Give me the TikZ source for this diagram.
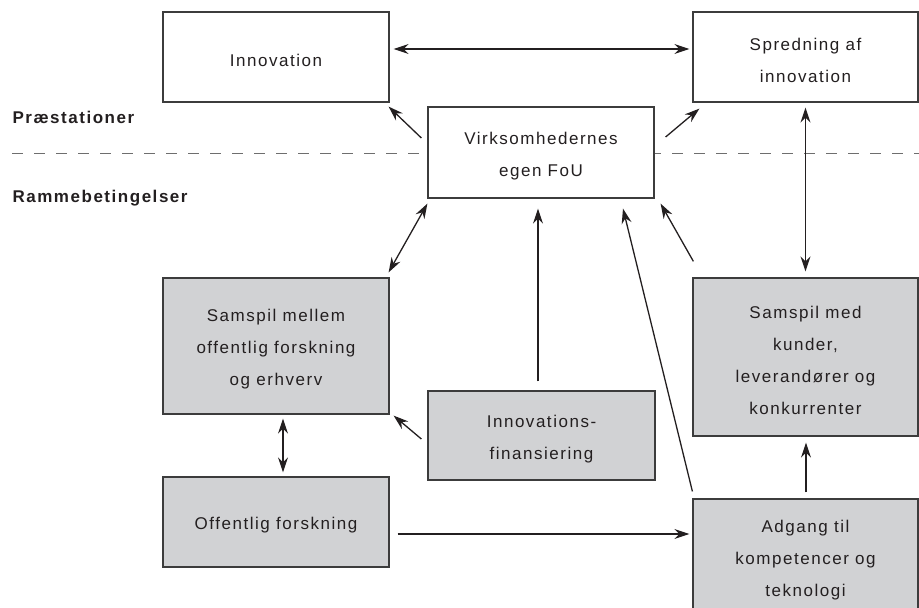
\documentclass[tikz,border=0pt]{standalone}
\usepackage{fontspec}
\setmainfont{Liberation Sans}[LetterSpace=9]
\usetikzlibrary{arrows.meta}
\definecolor{boxfill}{RGB}{209,210,212}
\definecolor{ink}{RGB}{35,31,32}
\definecolor{edge}{RGB}{60,60,60}
\definecolor{dashgray}{RGB}{110,110,110}
\newcommand{\bstrut}{\rule{0pt}{19pt}}
\begin{document}
\begin{tikzpicture}[x=1pt,y=-1pt,
  box/.style={draw=edge, line width=1.2pt, fill=white, inner sep=0pt, align=center, text=ink,
    font=\fontsize{17pt}{32pt}\selectfont},
  gbox/.style={box, fill=boxfill},
  >={Stealth[length=15pt,width=10pt,inset=5pt]},
  conn/.style={draw=ink, line width=1.3pt},
  lbl/.style={anchor=base west, text=ink, font=\bfseries\fontsize{17pt}{20pt}\selectfont}]
\useasboundingbox (0,0) rectangle (919,608);
\clip (0,0) rectangle (919,608);
% separator
\coordinate (dl) at (12,153);
\coordinate (dr) at (919,153);
\draw[dash pattern=on 11pt off 11pt, draw=dashgray, line width=1pt] (dl) -- (dr);
\node[lbl] (prae) at (9,123) {Præstationer};
\node[lbl] (ramme) at (9,202) {Rammebetingelser};
% boxes
\node[box, minimum width=226pt, minimum height=90pt] (innov) at (276,57) {\bstrut Innovation};
\node[box, minimum width=225pt, minimum height=90pt] (spred) at (805.5,57) {\bstrut Spredning af\\innovation};
\node[box, minimum width=226pt, minimum height=91pt] (virk) at (541,152.5) {\bstrut Virksomhedernes\\egen FoU};
\node[gbox, minimum width=226pt, minimum height=136pt] (smellem) at (276,346) {\bstrut Samspil mellem\\offentlig forskning\\og erhverv};
\node[gbox, minimum width=227pt, minimum height=89pt] (fin) at (541.5,435.5) {\bstrut Innovations-\\finansiering};
\node[gbox, minimum width=226pt, minimum height=90pt] (off) at (276,522) {\bstrut Offentlig forskning};
\node[gbox, minimum width=225pt, minimum height=158pt] (smed) at (805.5,357) {\bstrut Samspil med\\kunder,\\leverandører og\\konkurrenter};
\node[gbox, minimum width=225pt, minimum height=116pt] (adg) at (805.5,557) {\bstrut Adgang til\\kompetencer og\\teknologi};
% connectors
\draw[conn,<->] ([shift={(4,-8)}]innov.east) -- ([shift={(-3,-8)}]spred.west);
\draw[conn,->] ([shift={(-6,-14.5)}]virk.west) -- ([shift={(-1,4)}]innov.south east);
\draw[conn,->] ([shift={(11,-15.5)}]virk.east) -- ([shift={(7,6)}]spred.south west);
\draw[conn,<->] ([shift={(0,5)}]spred.south) -- ([shift={(0,-6)}]smed.north);
\draw[conn,<->] ([shift={(0,5)}]virk.south west) -- ([shift={(-1,-5)}]smellem.north east);
\draw[conn,->] ([shift={(-3.5,-9)}]fin.north) -- ([shift={(-3,10)}]virk.south);
\draw[conn,->] ([shift={(0,-7)}]adg.north west) -- ([shift={(82,10)}]virk.south);
\draw[conn,->] ([shift={(1,-16)}]smed.north west) -- ([shift={(6,5)}]virk.south east);
\draw[conn,->] ([shift={(-6,3.5)}]fin.west) -- ([shift={(4,1)}]smellem.south east);
\draw[conn,<->] ([shift={(7,4)}]smellem.south) -- ([shift={(7,-4)}]off.north);
\draw[conn,->] ([shift={(8,12)}]off.east) -- ([shift={(-3,-23)}]adg.west);
\draw[conn,->] ([shift={(0.5,-6)}]adg.north) -- ([shift={(0.5,6)}]smed.south);
\end{tikzpicture}
\end{document}
